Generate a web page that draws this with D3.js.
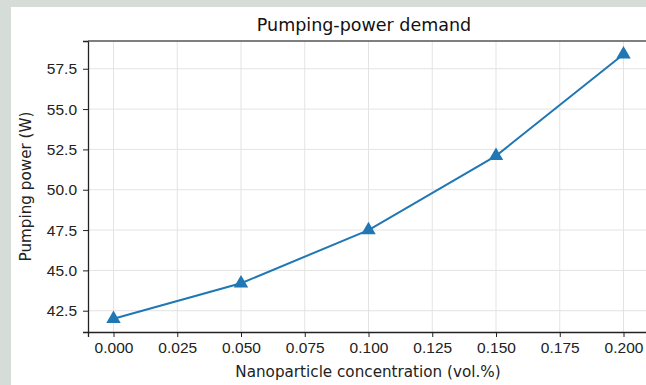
<!DOCTYPE html>
<html>
<head>
	<meta http-equiv="Content-Type" content="text/html;charset=utf-8">
	<title>Pumping-power demand</title>
	<script src="https://d3js.org/d3.v7.min.js"></script>
	<style type="text/css">
		body { margin: 0; background: #d6ddd8; }
		svg { display: block; font-family: "DejaVu Sans", sans-serif; }
		.grid line { stroke: #e3e3e3; stroke-width: 1px; }
		.axis text { font-size: 15.5px; fill: #222; }
		.axis path, .axis line { stroke: #222; }
	</style>
</head>
<body>
	<svg width="646" height="385"></svg>
	<script type="text/javascript">
		// values
		var concentration = [0.000, 0.050, 0.100, 0.150, 0.200];
		var power = [42.0, 44.2, 47.5, 52.1, 58.4];
		var xTicks = [0, 0.025, 0.05, 0.075, 0.1, 0.125, 0.15, 0.175, 0.2];
		var yTicks = [42.5, 45.0, 47.5, 50.0, 52.5, 55.0, 57.5];

		var svg = d3.select("svg");
		var pLeft = 88, pTop = 41, pRight = 649, pBottom = 332;

		// white figure panel, cropped at right and bottom
		svg.append("rect").attr("x", 11).attr("y", 7)
			.attr("width", 646).attr("height", 385).attr("fill", "white");

		var x = d3.scaleLinear().domain([-0.01, 0.21]).range([pLeft, pRight]);
		var y = d3.scaleLinear().domain([41.18, 59.22]).range([pBottom, pTop]);

		svg.append("g").attr("class", "grid")
			.selectAll("line").data(xTicks).enter().append("line")
				.attr("x1", function (d) { return x(d); })
				.attr("x2", function (d) { return x(d); })
				.attr("y1", pTop).attr("y2", pBottom);
		svg.append("g").attr("class", "grid")
			.selectAll("line").data(yTicks).enter().append("line")
				.attr("y1", function (d) { return y(d); })
				.attr("y2", function (d) { return y(d); })
				.attr("x1", pLeft).attr("x2", pRight);

		svg.append("g").attr("class", "axis")
			.attr("transform", "translate(0," + pBottom + ")")
			.call(d3.axisBottom(x).tickValues(xTicks).tickFormat(d3.format(".3f"))
				.tickSizeOuter(0).tickSize(5).tickPadding(5))
			.select(".domain").attr("stroke-width", 1.3);
		svg.append("g").attr("class", "axis")
			.attr("transform", "translate(" + pLeft + ",0)")
			.call(d3.axisLeft(y).tickValues(yTicks).tickFormat(d3.format(".1f"))
				.tickSizeOuter(0).tickSize(5).tickPadding(6))
			.select(".domain").attr("stroke-width", 1.3);

		// top spine
		svg.append("line").attr("x1", pLeft).attr("x2", pRight)
			.attr("y1", pTop).attr("y2", pTop)
			.attr("stroke", "#555").attr("stroke-width", 1.6);

		var line = d3.line()
			.x(function (d, i) { return x(concentration[i]); })
			.y(function (d) { return y(d); });
		svg.append("path").datum(power)
			.attr("d", line)
			.attr("fill", "none")
			.attr("stroke", "#1f77b4")
			.attr("stroke-width", 2);

		svg.selectAll(".marker").data(power).enter().append("path")
			.attr("class", "marker")
			.attr("d", d3.symbol().type(d3.symbolTriangle).size(90))
			.attr("transform", function (d, i) {
				return "translate(" + x(concentration[i]) + "," + y(d) + ")";
			})
			.attr("fill", "#1f77b4");

		svg.append("text").attr("x", 364).attr("y", 31)
			.attr("text-anchor", "middle").attr("font-size", "17.5px").attr("fill", "#111")
			.text("Pumping-power demand");
		svg.append("text").attr("x", 368).attr("y", 377)
			.attr("text-anchor", "middle").attr("font-size", "15.2px").attr("fill", "#222")
			.text("Nanoparticle concentration (vol.%)");
		svg.append("text")
			.attr("transform", "translate(31," + (pTop + pBottom) / 2 + ") rotate(-90)")
			.attr("text-anchor", "middle").attr("font-size", "15.2px").attr("fill", "#222")
			.text("Pumping power (W)");
	</script>
</body>
</html>
